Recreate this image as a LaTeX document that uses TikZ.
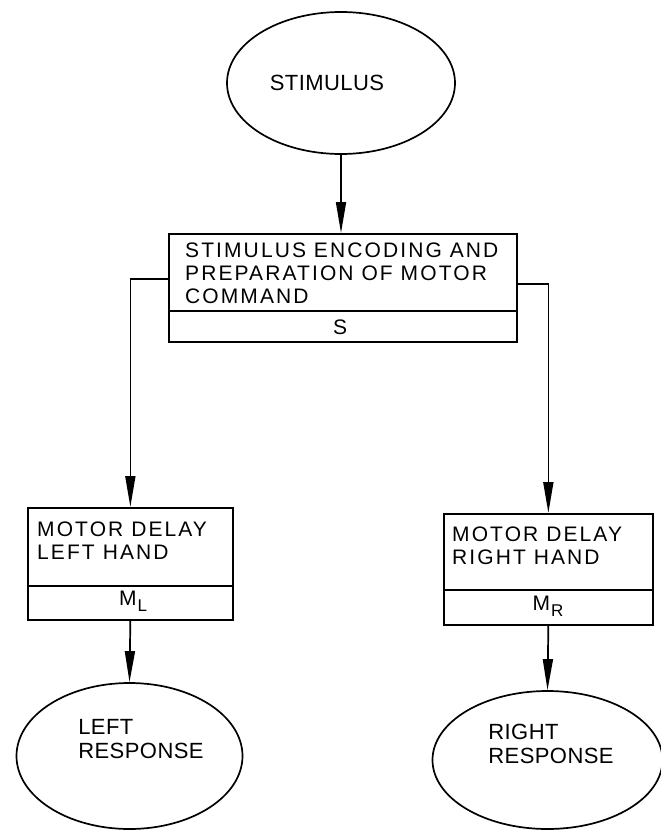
\documentclass[tikz,border=0pt]{standalone}
\usepackage{fontspec}
\setmainfont{Liberation Sans}
\newfontfamily\boxfont[LetterSpace=10]{Liberation Sans}
\newfontfamily\ovalfont[LetterSpace=2]{Liberation Sans}
\usetikzlibrary{shapes.geometric,arrows.meta}
\tikzset{
  oval/.style={draw, ellipse, line width=1.7pt, inner sep=0pt},
  box/.style={draw, rectangle, line width=1.7pt, anchor=north west, inner sep=0pt},
  boxtext/.style={anchor=west, align=left, inner sep=0pt, font=\boxfont\fontsize{21}{23}\selectfont},
  subtext/.style={font=\boxfont\fontsize{21}{23}\selectfont},
  ovaltext/.style={font=\ovalfont\fontsize{22}{24}\selectfont, align=left},
  arr/.style={line width=1.7pt, -{Triangle[length=31pt,width=10pt]}},
}
\newcommand{\subM}[1]{M\kern1pt\raisebox{-6pt}{\fontsize{17}{17}\selectfont #1}}
\begin{document}
\begin{tikzpicture}[x=1pt,y=-1pt]
\useasboundingbox (0,0) rectangle (661,830);
% stimulus
\node[oval, minimum width=228pt, minimum height=142pt] (stim) at (341,83) {};
\node[ovaltext] (stimt) at (327,83) {STIMULUS};
% main box
\node[box, minimum width=348pt, minimum height=77pt] (enc) at (168,233) {};
\node[box, minimum width=348pt, minimum height=31pt] (s) at (168,310) {};
\node[boxtext] (enct) at (185,273) {STIMULUS ENCODING AND\\PREPARATION OF MOTOR\\COMMAND};
\node[subtext] (st) at (340,327) {S};
% left box
\node[box, minimum width=205pt, minimum height=78pt] (lbox) at (27,507) {};
\node[box, minimum width=205pt, minimum height=34pt] (ml) at (27,585) {};
\node[boxtext] (lboxt) at (37,541) {MOTOR DELAY\\LEFT HAND};
\node[subtext] (mlt) at (133,601) {\subM{L}};
% right box
\node[box, minimum width=209pt, minimum height=76pt] (rbox) at (443,513) {};
\node[box, minimum width=209pt, minimum height=35pt] (mr) at (443,589) {};
\node[boxtext] (rboxt) at (452,546) {MOTOR DELAY\\RIGHT HAND};
\node[subtext] (mrt) at (548,606) {\subM{R}};
% responses
\node[oval, minimum width=226pt, minimum height=146pt] (lresp) at (129.5,756) {};
\node[ovaltext] (lrespt) at (141,739) {LEFT\\RESPONSE};
\node[oval, minimum width=230pt, minimum height=138pt] (rresp) at (547.5,760) {};
\node[ovaltext] (rrespt) at (551,744) {RIGHT\\RESPONSE};
% connectors
\coordinate (lj) at (168,279);
\coordinate (rj) at (516,284);
\draw[arr] (stim.south) -- (stim.south |- enc.north);
\draw[arr] (lj) -| (lbox.north);
\draw[arr] (rj) -| (rbox.north);
\draw[arr] (ml.south) -- (lresp.north);
\draw[arr] (mr.south) -- (rresp.north);
\end{tikzpicture}
\end{document}
